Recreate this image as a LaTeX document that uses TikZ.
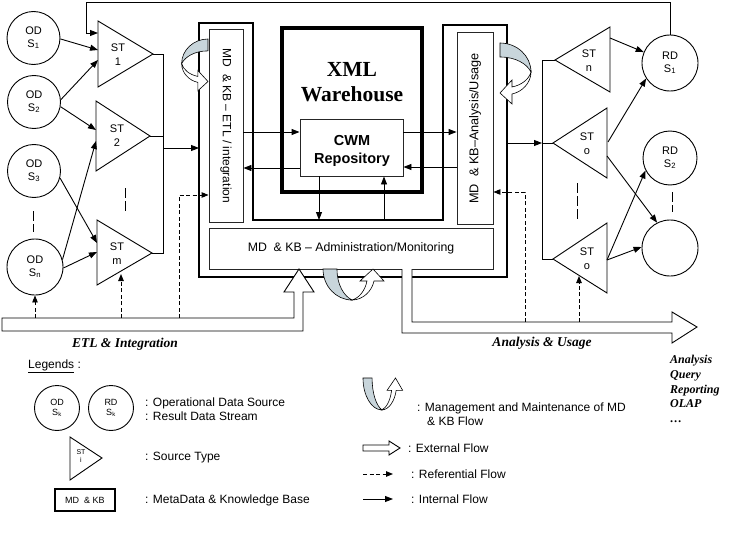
\documentclass[tikz,border=0pt]{standalone}
\usepackage{fontspec}
\setmainfont{Liberation Sans}
\newfontfamily\tnr{Liberation Serif}
\usetikzlibrary{arrows.meta}
\definecolor{mgray}{RGB}{200,213,219}
\newcommand\myfs[2]{\fontsize{#1}{#2}\selectfont}
\newcommand\mgmtarrow{%
  \filldraw[curvg] (0,0) -- (14,0) .. controls (14,16) and (21,27) .. (29,31) .. controls (13,31) and (0,17) .. (0,0) -- cycle;
  \filldraw[curvw] (29,31) .. controls (40,31) and (49,22) .. (51,12) -- (61,12) -- (50,0) -- (37,12) -- (44,12) .. controls (42,22) and (36,29) .. (29,31) -- cycle;}
\begin{document}
\begin{tikzpicture}[x=1pt,y=-1pt,
  ln/.style={line width=0.9pt},
  arr/.style={line width=0.9pt,-{Triangle[length=8pt,width=6pt]}},
  darr/.style={line width=0.9pt,dash pattern=on 4pt off 2.5pt,-{Triangle[length=7pt,width=5.5pt]}},
  vdots/.style={line width=0.9pt,dash pattern=on 10pt off 3pt},
  circ/.style={draw,line width=0.9pt,circle,inner sep=0pt,align=center,font=\myfs{11}{12.5}},
  tri/.style={draw,line width=0.9pt,fill=white,line join=miter},
  sttxt/.style={align=center,font=\myfs{11}{14}},
  gbox/.style={draw=black!85,line width=0.9pt,fill=white,inner sep=0pt},
  curvg/.style={fill=mgray,draw=black,line width=0.6pt},
  curvw/.style={fill=white,draw=black,line width=0.6pt},
  bi/.style={font=\tnr\bfseries\itshape\myfs{13.5}{16}},
  lgd/.style={anchor=west,font=\myfs{12}{13},inner sep=0pt},
]
\useasboundingbox (0,0) rectangle (737,543);

% ---------- central block ----------
\draw[line width=2pt,line join=miter] (199,23) -- (253,23) -- (253,220) -- (443,220) -- (443,25) -- (507,25) -- (507,277) -- (199,277) -- cycle;
\node[draw,line width=4pt,minimum width=140,minimum height=164,inner sep=0pt] (xml) at (352,110) {};
\node[font=\tnr\bfseries\myfs{21.5}{25},align=center] (xmltxt) at (352,82) {XML\\Warehouse};

\node[gbox,minimum width=34,minimum height=193] (etl) at (226,125.5) {};
\node[rotate=-90,font=\myfs{12}{14}] (etltxt) at (226,126) {MD\ \ \& KB – ETL / integration};
\node[gbox,minimum width=36,minimum height=192] (ana) at (475,128) {};
\node[rotate=90,font=\myfs{12.7}{14}] (anatxt) at (475,128.5) {MD\ \ \& KB–Analysis/Usage};
\node[gbox,minimum width=284,minimum height=41] (adm) at (351,248.5) {};
\node[font=\myfs{12.3}{14}] (admtxt) at (351,248.5) {MD\ \ \& KB – Administration/Monitoring};
\node[gbox,minimum width=103,minimum height=57] (cwm) at (351.5,147.5) {};
\node[font=\bfseries\myfs{14.5}{18},align=center] (cwmtxt) at (352,151) {CWM\\Repository};

\draw[arr] (etl.east |- 0,132) -- (cwm.west |- 0,132);
\draw[arr] (cwm.west |- 0,168) -- (etl.east |- 0,168);
\draw[arr] (cwm.east |- 0,132) -- (ana.west |- 0,132);
\draw[arr] (ana.west |- 0,167) -- (cwm.east |- 0,167);
\coordinate (ubot1) at (319,220);
\coordinate (ubot2) at (384,220);
\draw[arr] (cwm.south -| ubot1) -- (ubot1);
\draw[arr] (ubot2) -- (cwm.south -| ubot2);

% management flow arrows
\begin{scope}[shift={(208,39)},x={(0pt,-0.85pt)},y={(-0.85pt,0pt)}]\mgmtarrow\end{scope}
\begin{scope}[shift={(500,43)},x={(0pt,-1pt)},y={(1pt,0pt)}]\mgmtarrow\end{scope}
\begin{scope}[shift={(323,269)}]\mgmtarrow\end{scope}

% external flows
\filldraw[ln,fill=white,line join=miter] (2,318) -- (294,318) -- (294,292) -- (284,292) -- (299,269) -- (314,292) -- (303,292) -- (303,331) -- (2,331) -- cycle;
\fill[white] (402,269) -- (402,333) -- (672,333) -- (672,343) -- (697,327) -- (672,312) -- (672,322) -- (412,322) -- (412,269) -- cycle;
\draw[ln,line join=miter] (402,269) -- (402,333) -- (672,333) -- (672,343) -- (697,327) -- (672,312) -- (672,322) -- (412,322) -- (412,269);

% ---------- left side ----------
\node[circ,minimum size=53] (ods1) at (33.5,38) {OD\\S\textsubscript{1}};
\node[circ,minimum size=53] (ods2) at (34,102) {OD\\S\textsubscript{2}};
\node[circ,minimum size=53] (ods3) at (34,171) {OD\\S\textsubscript{3}};
\node[circ,minimum size=56] (odsn) at (35,267) {OD\\S\textsubscript{n}};
\coordinate (vd1a) at (33,211); \coordinate (vd1b) at (33,232);
\draw[vdots] (vd1a) -- (vd1b);

\coordinate (t1a) at (98,21); \coordinate (t1b) at (98,87); \coordinate (t1c) at (153,54);
\coordinate (t2a) at (96,101); \coordinate (t2b) at (96,171); \coordinate (t2c) at (150,136);
\coordinate (tma) at (97,220); \coordinate (tmb) at (97,285); \coordinate (tmc) at (152,253);
\draw[tri] (t1a) -- (t1c) -- (t1b) -- cycle;
\draw[tri] (t2a) -- (t2c) -- (t2b) -- cycle;
\draw[tri] (tma) -- (tmc) -- (tmb) -- cycle;
\node[sttxt] (st1) at (118,55) {ST\\1};
\node[sttxt] (st2) at (117,136) {ST\\2};
\node[sttxt] (stm) at (117,254) {ST\\m};
\coordinate (vd2a) at (125,188); \coordinate (vd2b) at (125,213);
\draw[vdots] (vd2a) -- (vd2b);

\coordinate (c1a) at (98,50); \coordinate (c1b) at (98,60);
\coordinate (c2a) at (96,130); \coordinate (c2b) at (96,141);
\coordinate (cma) at (97,243); \coordinate (cmb) at (97,252);
\draw[arr] (ods1.-2) -- (c1a);
\draw[arr] (ods2.5) -- (c1b);
\draw[arr] (ods2.-10) -- (c2a);
\draw[arr] (odsn.15) -- (c2b);
\draw[arr] (ods3.-15) -- (cma);
\draw[arr] (odsn.-2) -- (cmb);

\coordinate (b1) at (163,54); \coordinate (b2) at (163,136); \coordinate (b3) at (163,253);
\coordinate (bo) at (163,148); \coordinate (etlin) at (199,148);
\draw[ln] (t1c) -- (b1) -- (b3) -- (tmc);
\draw[ln] (t2c) -- (b2);
\draw[arr] (bo) -- (etlin);

% ---------- right side ----------
\node[circ,minimum size=56] (rds1) at (670,63) {RD\\S\textsubscript{1}};
\node[circ,minimum size=54] (rds2) at (670,158) {RD\\S\textsubscript{2}};
\node[circ,minimum size=56] (rd3) at (670,248) {};
\coordinate (vd4a) at (672,192); \coordinate (vd4b) at (672,212);
\draw[vdots] (vd4a) -- (vd4b);

\coordinate (tna) at (610,27); \coordinate (tnb) at (610,92); \coordinate (tnc) at (555,60);
\coordinate (to1a) at (607,108); \coordinate (to1b) at (607,178); \coordinate (to1c) at (553,143);
\coordinate (to2a) at (607,223); \coordinate (to2b) at (607,293); \coordinate (to2c) at (553,259);
\draw[tri] (tna) -- (tnc) -- (tnb) -- cycle;
\draw[tri] (to1a) -- (to1c) -- (to1b) -- cycle;
\draw[tri] (to2a) -- (to2c) -- (to2b) -- cycle;
\node[sttxt] (stn) at (589,61) {ST\\n};
\node[sttxt] (sto1) at (587,144) {ST\\o};
\node[sttxt] (sto2) at (587,259) {ST\\o};
\coordinate (vd3a) at (577,183); \coordinate (vd3b) at (577,220);
\draw[vdots] (vd3a) -- (vd3b);

\coordinate (rb1) at (542,60); \coordinate (rb2) at (542,143); \coordinate (rb3) at (542,259);
\coordinate (anaout) at (507,143);
\draw[ln] (tnc) -- (rb1) -- (rb3) -- (to2c);
\draw[ln] (rb2) -- (to1c);
\draw[arr] (anaout) -- (rb2);

\coordinate (sn) at (610,38);
\coordinate (so1u) at (608,142); \coordinate (so1d) at (607,156);
\coordinate (so2) at (607,260);
\draw[arr] (sn) -- (rds1);
\draw[arr] (so1u) -- (rds1.213);
\draw[arr] (so1d) -- (rd3.117);
\draw[arr] (so2) -- (rds2.207);
\draw[arr] (so2) -- (rd3.178);

% feedback loop
\coordinate (lp1) at (670,2); \coordinate (lp2) at (86,2); \coordinate (lp3) at (86,33); \coordinate (c1top) at (98,33);
\draw[arr] (rds1.north) -- (lp1) -- (lp2) -- (lp3) -- (c1top);

% referential flows
\coordinate (e1) at (35,318);
\draw[darr] (e1) -- (odsn.south);
\coordinate (e2) at (121,318); \coordinate (e2t) at (121,274);
\draw[darr] (e2) -- (e2t);
\coordinate (e3) at (179,318); \coordinate (e3k) at (179,195);
\draw[darr] (e3) -- (e3k) -- (etl.west |- e3k);
\coordinate (a1) at (525,322); \coordinate (a1k) at (525,192);
\draw[darr] (a1) -- (a1k) -- (ana.east |- a1k);
\coordinate (a2) at (579,322); \coordinate (a2t) at (579,276);
\draw[darr] (a2) -- (a2t);

% labels
\node[bi] (etllbl) at (125,344) {ETL \& Integration};
\node[bi] (analbl) at (542,343) {Analysis \& Usage};
\node[anchor=west,align=left,font=\tnr\bfseries\itshape\myfs{12}{14.8},inner sep=0pt] (outs) at (670,389) {Analysis\\Query\\Reporting\\OLAP\\…};

% ---------- legend ----------
\node[lgd] (lgt) at (28,366) {\underline{Legends} :};
\node[circ,minimum size=45,font=\myfs{9}{10}] (lod) at (57,408) {OD\\S\textsubscript{k}};
\node[circ,minimum size=45,font=\myfs{9}{10}] (lrd) at (111,408) {RD\\S\textsubscript{k}};
\node[lgd] (lg1) at (145,403) {: Operational Data Source};
\node[lgd] (lg2) at (145,416) {: Result Data Stream};
\coordinate (lta) at (70,437); \coordinate (ltb) at (70,480); \coordinate (ltc) at (102,458);
\draw[tri] (lta) -- (ltc) -- (ltb) -- cycle;
\node[align=center,font=\myfs{7}{8}] (lsti) at (81,456) {ST\\i};
\node[lgd] (lg3) at (145,458) {: Source Type};
\node[draw,line width=1.2pt,minimum width=60,minimum height=22,font=\myfs{9}{10}] (lbox) at (85,500) {MD\ \ \& KB};
\node[lgd] (lg4) at (145,500) {: MetaData \& Knowledge Base};

\begin{scope}[shift={(363,378)},x={(0.65pt,0pt)},y={(0pt,-1.03pt)}]\mgmtarrow\end{scope}
\node[lgd] (lg5) at (417,408) {: Management and Maintenance of MD};
\node[lgd] (lg6) at (427,421) {\& KB Flow};
\filldraw[ln,fill=white,line join=miter] (363,445) -- (389,445) -- (389,441) -- (400,448) -- (389,455) -- (389,451) -- (363,451) -- cycle;
\node[lgd] (lg7) at (408,448) {: External Flow};
\coordinate (ld1) at (363,474); \coordinate (ld2) at (393,474);
\draw[darr] (ld1) -- (ld2);
\node[lgd] (lg8) at (411,474) {: Referential Flow};
\coordinate (li1) at (363,499); \coordinate (li2) at (393,499);
\draw[arr] (li1) -- (li2);
\node[lgd] (lg9) at (411,499) {: Internal Flow};
\end{tikzpicture}
\end{document}
